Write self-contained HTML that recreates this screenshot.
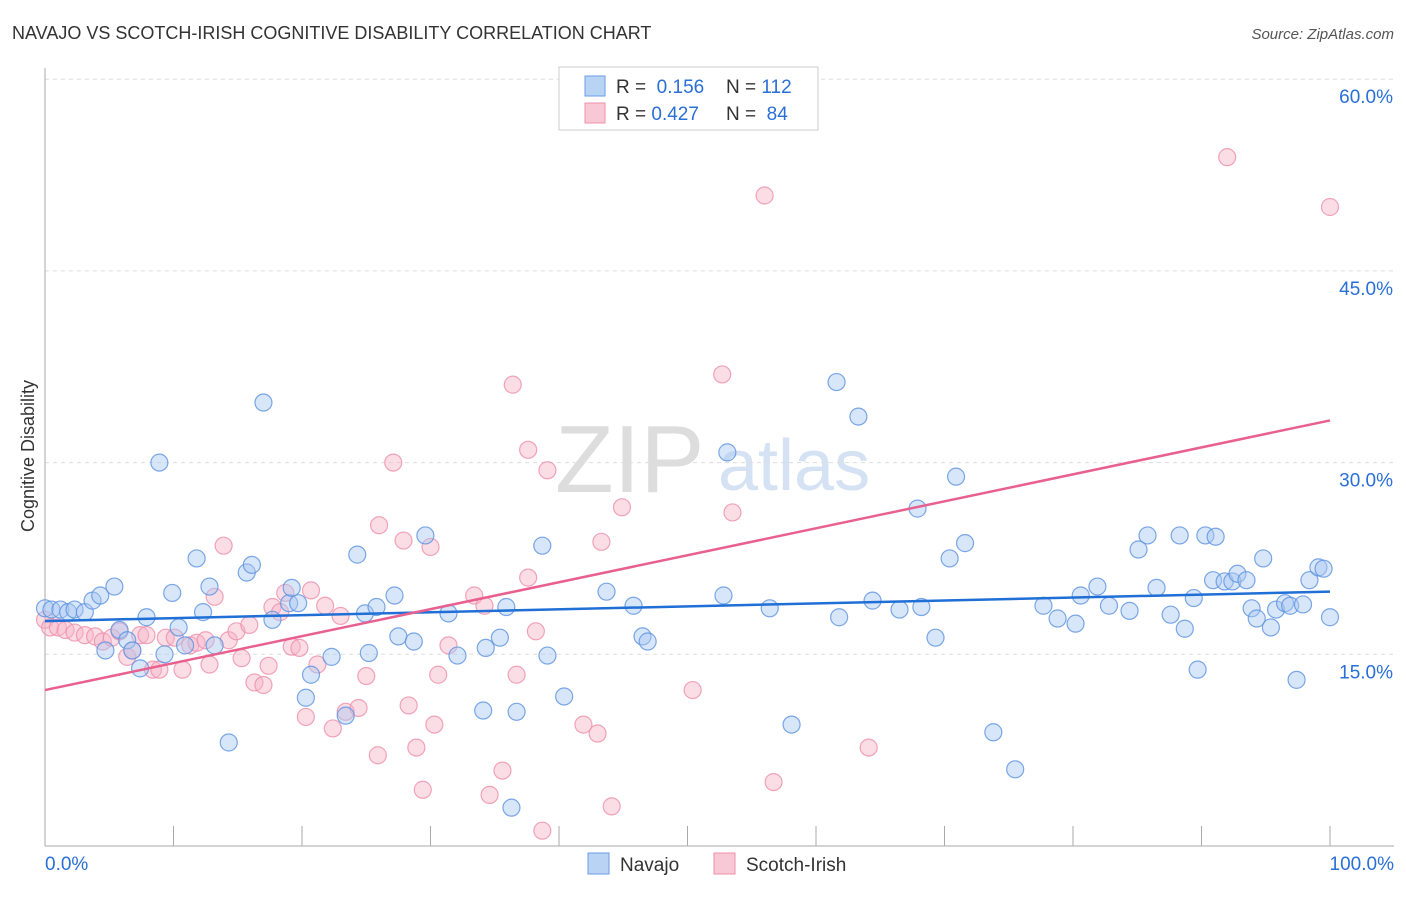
<!DOCTYPE html>
<html><head><meta charset="utf-8">
<style>
body{margin:0;background:#fff;font-family:"Liberation Sans",sans-serif;}
svg text{font-family:"Liberation Sans",sans-serif;}
</style></head>
<body>
<svg id="chart" width="1406" height="892" xmlns="http://www.w3.org/2000/svg">
<text x="12" y="39" font-size="18" fill="#333">NAVAJO VS SCOTCH-IRISH COGNITIVE DISABILITY CORRELATION CHART</text>
<text x="1394" y="39" font-size="15" fill="#555" text-anchor="end" font-style="italic">Source: ZipAtlas.com</text>
<text x="555" y="492" font-size="96" fill="#ddd" font-family="Liberation Serif">ZIP</text>
<text x="718" y="490" font-size="72" fill="#d4e2f4">atlas</text>
<text x="34" y="456" font-size="18" fill="#333" text-anchor="middle" transform="rotate(-90 34 456)">Cognitive Disability</text>
<g id="grid"></g>
<g id="marks"></g>
<g>
<rect x="559" y="67" width="259" height="63" fill="#fff" stroke="#ccc"/>
<rect x="585" y="76" width="20" height="20" fill="#b9d3f5" stroke="#6a9ee6"/>
<rect x="585" y="103" width="20" height="20" fill="#f9c8d6" stroke="#ee8fab"/>
<text x="616" y="93" font-size="19" fill="#333">R = <tspan fill="#2a6fd6">&#160;0.156</tspan><tspan x="726">N = </tspan><tspan fill="#2a6fd6"> 112</tspan></text>
<text x="616" y="120" font-size="19" fill="#333">R = <tspan fill="#2a6fd6">0.427</tspan><tspan x="726">N = </tspan><tspan fill="#2a6fd6"> &#160;84</tspan></text>
</g>
<g>
<rect x="588" y="853" width="21" height="21" fill="#b9d3f5" stroke="#6a9ee6"/>
<text x="620" y="871" font-size="19" fill="#333">Navajo</text>
<rect x="714" y="853" width="21" height="21" fill="#f9c8d6" stroke="#ee8fab"/>
<text x="746" y="871" font-size="19" fill="#333">Scotch-Irish</text>
</g>
<text x="45" y="870" font-size="19" fill="#2a6fd6">0.0%</text>
<text x="1394" y="870" font-size="19" fill="#2a6fd6" text-anchor="end">100.0%</text>
</svg>
<script>
const yTicks=[15,30,45,60];
const yTickLabels=["15.0%","30.0%","45.0%","60.0%"];
const navX=[0,0.5,1.2,1.8,2.3,3.1,3.7,4.3,4.7,5.4,5.8,6.4,6.8,7.4,7.9,8.9,9.3,9.9,10.4,10.9,11.8,12.3,12.8,13.2,14.3,15.7,16.1,17.0,17.7,19.0,19.2,19.7,20.3,20.7,22.3,23.4,24.3,24.9,25.2,25.8,27.2,27.5,28.7,29.6,31.4,32.1,34.1,34.3,35.4,35.9,36.3,36.7,38.7,39.1,40.4,43.7,45.8,46.5,46.9,53.1,52.8,56.4,58.1,61.6,61.8,63.3,64.4,66.5,67.9,68.2,69.3,70.4,70.9,71.6,73.8,75.5,77.7,78.8,80.2,80.6,81.9,82.8,84.4,85.1,85.8,86.5,87.6,88.3,88.7,89.4,89.7,90.3,90.9,91.1,91.8,92.4,92.8,93.5,93.9,94.3,94.8,95.4,95.8,96.5,96.9,97.4,97.9,98.4,99.1,99.5,100];
const navY=[18.6,18.5,18.5,18.3,18.5,18.3,19.2,19.6,15.3,20.3,16.9,16.1,15.3,13.9,17.9,30.0,15.0,19.8,17.1,15.7,22.5,18.3,20.3,15.7,8.1,21.4,22.0,34.7,17.7,19.0,20.2,19.0,11.6,13.4,14.8,10.2,22.8,18.2,15.1,18.7,19.6,16.4,16.0,24.3,18.2,14.9,10.6,15.5,16.3,18.7,3.0,10.5,23.5,14.9,11.7,19.9,18.8,16.4,16.0,30.8,19.6,18.6,9.5,36.3,17.9,33.6,19.2,18.5,26.4,18.7,16.3,22.5,28.9,23.7,8.9,6.0,18.8,17.8,17.4,19.6,20.3,18.8,18.4,23.2,24.3,20.2,18.1,24.3,17.0,19.4,13.8,24.3,20.8,24.2,20.7,20.7,21.3,20.8,18.6,17.8,22.5,17.1,18.5,19.0,18.8,13.0,18.9,20.8,21.8,21.7,17.9];
const scoX=[0,0.4,1.0,1.6,2.3,3.1,3.9,4.5,5.2,5.8,6.4,6.8,7.4,7.9,8.4,8.9,9.4,10.1,10.7,11.3,11.8,12.5,12.8,13.2,13.9,14.3,14.9,15.3,15.9,16.3,17.0,17.4,17.7,18.3,18.7,19.2,19.8,20.3,20.7,21.2,21.8,22.4,23.0,23.4,24.4,25.0,25.9,26.0,27.1,27.9,28.3,28.9,29.4,30.0,30.3,30.6,31.4,33.4,34.2,34.6,35.6,36.4,36.7,37.6,37.6,38.2,38.7,39.1,41.9,43.0,43.3,44.1,44.9,50.4,52.7,53.5,56.0,56.7,64.1,92.0,100];
const scoY=[17.7,17.1,17.1,16.9,16.7,16.5,16.4,16.0,16.3,16.8,14.8,15.3,16.5,16.5,13.8,13.8,16.3,16.3,13.8,15.7,15.9,16.1,14.2,19.5,23.5,16.1,16.8,14.7,17.3,12.8,12.6,14.1,18.7,18.3,19.8,15.6,15.5,10.1,20.0,14.2,18.8,9.2,18.0,10.5,10.8,13.3,7.1,25.1,30.0,23.9,11.0,7.7,4.4,23.4,9.5,13.4,15.7,19.6,18.8,4.0,5.9,36.1,13.4,31.0,21.0,16.8,1.2,29.4,9.5,8.8,23.8,3.1,26.5,12.2,36.9,26.1,50.9,5.0,7.7,53.9,50.0];
const navTrend=[17.6,19.9];
const scoTrend=[12.2,33.3];
const NS="http://www.w3.org/2000/svg";
const X=v=>45+v*12.85;
const Y=v=>846-v*12.78;
const grid=document.getElementById('grid'),marks=document.getElementById('marks');
function mk(tag,attrs,parent){const e=document.createElementNS(NS,tag);for(const k in attrs)e.setAttribute(k,attrs[k]);parent.appendChild(e);return e;}
yTicks.forEach((t,i)=>{
 const l=mk('line',{x1:45,x2:1394,y1:Y(t),y2:Y(t),stroke:'#ddd','stroke-dasharray':'4 4'},grid);
 
 
 const tx=mk('text',{x:1393,y:Y(t)+24,'font-size':19,fill:'#2a6fd6','text-anchor':'end'},grid);
 tx.textContent=yTickLabels[i];
 
 
});
const ax=mk('line',{x1:45,x2:45,y1:68,y2:846,stroke:'#aaa'},grid);


const bx=mk('line',{x1:45,x2:1394,y1:846,y2:846,stroke:'#aaa'},grid);


for(let i=0;i<=10;i++){const t=mk('line',{x1:X(i*10),x2:X(i*10),y1:826,y2:846,stroke:'#aaa'},grid);
 
 }
function pts(xs,ys,fill,stroke,name){xs.forEach((x,i)=>{const c=mk('circle',{cx:X(x),cy:Y(ys[i]),r:8.5,fill:fill,'fill-opacity':0.45,stroke:stroke,'stroke-opacity':0.8,'stroke-width':1.2},marks);
 
 });}
pts(scoX,scoY,'#f7b3c7','#ee8fab','scotch-irish-point');
pts(navX,navY,'#a9c8f2','#5b92e0','navajo-point');
const nl=mk('line',{x1:X(0),y1:Y(navTrend[0]),x2:X(100),y2:Y(navTrend[1]),stroke:'#1f6fd6','stroke-width':2.5},marks);


const sl=mk('line',{x1:X(0),y1:Y(scoTrend[0]),x2:X(100),y2:Y(scoTrend[1]),stroke:'#e8608f','stroke-width':2.5},marks);


</script>
</body></html>
